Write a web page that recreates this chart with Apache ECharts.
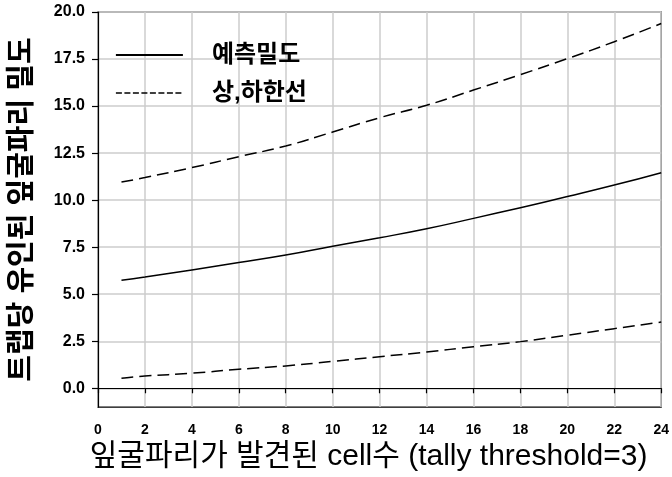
<!DOCTYPE html>
<html>
<head>
<meta charset="utf-8">
<script src="https://cdn.jsdelivr.net/npm/echarts@6/dist/echarts.min.js"></script>
<style>
  html, body { margin: 0; padding: 0; background: #fff; }
  #chart { width: 672px; height: 477px; }
</style>
</head>
<body>
<div id="chart"></div>
<script>
// cell counts (x) and the predicted density with its upper / lower bounds
const cellCounts = [1, 2, 4, 6, 8, 10, 12, 14, 16, 18, 20, 22, 24];
const predicted = [5.74, 5.91, 6.29, 6.68, 7.08, 7.55, 8.0, 8.48, 9.03, 9.6, 10.19, 10.8, 11.46];
const upperBound = [10.96, 11.2, 11.73, 12.31, 12.88, 13.62, 14.38, 15.04, 15.85, 16.67, 17.52, 18.42, 19.39];
const lowerBound = [0.53, 0.65, 0.80, 1.01, 1.19, 1.43, 1.68, 1.93, 2.21, 2.48, 2.82, 3.17, 3.52];
const yTicks = [0, 2.5, 5, 7.5, 10, 12.5, 15, 17.5, 20];

const legendNames = ['예측밀도', '상,하한선'];
const xTitle = '잎굴파리가 발견된 cell수 (tally threshold=3)';
const yTitle = '트랩당 유인된 잎굴파리 밀도';

function pairs(ys) {
    return cellCounts.map((x, i) => [x, ys[i]]);
}

const numFont = '"Liberation Sans", Arial, sans-serif';
const korFont = '"Liberation Sans", "Noto Sans CJK KR", sans-serif';

const chart = echarts.init(document.getElementById('chart'));
const option = {
    animation: false,
    grid: {
        left: 98, right: 9, top: 12, bottom: 69,
        show: true, borderColor: '#000', borderWidth: 1.2
    },
    legend: {
        orient: 'vertical',
        left: 115,
        top: 43,
        padding: 0,
        itemWidth: 67,
        itemHeight: 14,
        itemGap: 14,
        textStyle: {
            fontFamily: korFont, fontSize: 24, fontWeight: 'bold', color: '#000',
            padding: [0, 0, 0, 24]
        },
        data: [
            { name: legendNames[0], itemStyle: { opacity: 0 }, lineStyle: { width: 1.8, type: 'solid' } },
            { name: legendNames[1], itemStyle: { opacity: 0 }, lineStyle: { width: 1.5, type: [6, 2.5] } }
        ]
    },
    xAxis: {
        type: 'value',
        min: 0, max: 24, interval: 2,
        name: xTitle,
        nameLocation: 'middle',
        nameGap: 34,
        nameTextStyle: {
            fontFamily: korFont, fontSize: 30, color: '#000',
            padding: [0, 22, 0, 0]
        },
        axisLine: { lineStyle: { color: '#000', width: 1.2 } },
        axisTick: { show: true, inside: false, length: 5, lineStyle: { color: '#000', width: 1.2 } },
        axisLabel: {
            margin: 16, fontFamily: numFont, fontSize: 14, fontWeight: 'bold', color: '#000'
        },
        splitLine: { show: true, lineStyle: { color: '#cccccc', width: 1.5 } }
    },
    yAxis: {
        type: 'value',
        min: -1, max: 20,
        name: yTitle,
        nameLocation: 'middle',
        nameGap: 61,
        nameTextStyle: {
            fontFamily: korFont, fontSize: 29, fontWeight: 'bold', color: '#000'
        },
        axisLine: { show: true, lineStyle: { color: '#000', width: 1.2 } },
        axisTick: {
            show: true, inside: false, length: 6, customValues: yTicks,
            lineStyle: { color: '#000', width: 1.2 }
        },
        axisLabel: {
            margin: 13, customValues: yTicks,
            fontFamily: numFont, fontSize: 16, fontWeight: 'bold', color: '#000',
            formatter: v => v.toFixed(1)
        },
        splitLine: { show: true, lineStyle: { color: '#cccccc', width: 1.5 } }
    },
    series: [
        {
            name: legendNames[0], type: 'line', smooth: true, symbol: 'none',
            data: pairs(predicted),
            lineStyle: { color: '#000', width: 1.5, type: 'solid' },
            itemStyle: { color: '#000' }
        },
        {
            name: legendNames[1], type: 'line', smooth: true, symbol: 'none',
            data: pairs(upperBound),
            lineStyle: { color: '#000', width: 1.5, type: [12, 6] },
            itemStyle: { color: '#000' }
        },
        {
            name: legendNames[1], type: 'line', smooth: true, symbol: 'none',
            data: pairs(lowerBound),
            lineStyle: { color: '#000', width: 1.5, type: [12, 6] },
            itemStyle: { color: '#000' }
        }
    ]
};
chart.setOption(option);
</script>
</body>
</html>
